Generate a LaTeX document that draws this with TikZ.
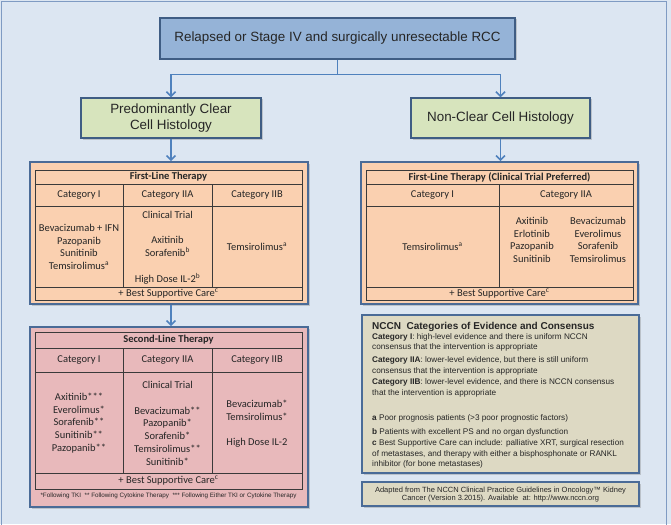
\documentclass[tikz,border=0pt]{standalone}
\usepackage{fontspec}
\setmainfont{Liberation Sans}
\newfontfamily\calibri{Carlito}
\usetikzlibrary{arrows.meta,shadows}

\definecolor{bg}{HTML}{DCE6F2}
\definecolor{frame}{HTML}{7F9BC3}
\definecolor{topfill}{HTML}{95B3D7}
\definecolor{greenfill}{HTML}{D7E4BD}
\definecolor{flowedge}{HTML}{3F5D84}
\definecolor{paneledge}{HTML}{4A6B97}
\definecolor{peach}{HTML}{FAD0B0}
\definecolor{pink}{HTML}{E8B9BB}
\definecolor{beige}{HTML}{DDD9C3}
\definecolor{arrowblue}{HTML}{4F81BD}
\definecolor{gridline}{HTML}{3A3A3A}
\definecolor{txt}{HTML}{262626}

\begin{document}
\begin{tikzpicture}[x=1pt,y=-1pt,
  flow/.style={draw=flowedge, line width=1.3pt, inner sep=0pt, align=center,
    text=txt, font=\fontsize{13.4}{15.5}\selectfont,
    drop shadow={shadow xshift=1.5pt, shadow yshift=-1.5pt, opacity=0.35}},
  panel/.style={draw=paneledge, line width=1.6pt, inner sep=0pt,
    drop shadow={shadow xshift=1.5pt, shadow yshift=-1.5pt, opacity=0.35}},
  grid/.style={draw=gridline, line width=0.9pt},
  cell/.style={inner sep=0pt, align=center, text=txt,
    font=\calibri\fontsize{10.5}{12.7}\selectfont},
  cellhead/.style={cell, font=\calibri\bfseries\fontsize{10.5}{12.7}\selectfont},
  foot/.style={inner sep=0pt, text=txt, font=\fontsize{6.3}{7.5}\selectfont},
  note/.style={inner sep=0pt, align=left, text=txt, font=\fontsize{8.2}{10.4}\selectfont},
  notetitle/.style={inner sep=0pt, text=txt, font=\bfseries\fontsize{10}{12}\selectfont},
  credit/.style={inner sep=0pt, align=center, text=txt, font=\fontsize{7.5}{8.6}\selectfont},
  conn/.style={draw=arrowblue, line width=1.6pt},
  tip/.style={-{Straight Barb[length=4.5pt,width=9pt]}}]

\useasboundingbox (0,0) rectangle (671,524);
\fill[bg] (0,0) rectangle (671,524);
\draw[frame, line width=1.4pt] (1.5,530) -- (1.5,1.5) -- (666.5,1.5) -- (666.5,530);

% --- decision flow ---
\node[flow, fill=topfill, minimum width=355pt, minimum height=41pt] (top) at (337.5,38.5)
  {Relapsed or Stage IV and surgically unresectable RCC};
\node[flow, fill=greenfill, minimum width=180pt, minimum height=40pt] (gl) at (171,118)
  {Predominantly Clear\\Cell Histology};
\node[flow, fill=greenfill, minimum width=179pt, minimum height=40pt] (gr) at (500.5,118)
  {Non-Clear Cell Histology};

\draw[conn] (top.south) -- ++(0,15) coordinate (split);
\draw[conn,tip] (split) -| (gl.north);
\draw[conn,tip] (split) -| (gr.north);

% --- panels ---
\node[panel, fill=peach, minimum width=278pt, minimum height=142pt] (fl1) at (169,233) {};
\node[panel, fill=peach, minimum width=277pt, minimum height=142pt] (fr1) at (499.5,233) {};
\node[panel, fill=pink, minimum width=278pt, minimum height=180pt] (sl) at (169,417) {};
\node[panel, fill=beige, minimum width=277pt, minimum height=158pt] (nccn) at (500.5,394) {};
\node[panel, fill=beige, minimum width=277pt, minimum height=24pt] (src) at (500.5,494) {};

\draw[conn,tip] (gl.south) -- (gl.south |- fl1.north);
\draw[conn,tip] (gr.south) -- (gr.south |- fr1.north);
\draw[conn,tip] (fl1.south -| gl.south) -- (gl.south |- sl.north);

% --- first-line therapy, clear cell ---
\draw[grid] (35,170) rectangle (302,300);
\draw[grid] (35,184) -- (302,184) (35,206) -- (302,206) (35,287) -- (302,287)
  (123,184) -- (123,287) (212,184) -- (212,287);
\node[cellhead] (fl1t) at (168.5,177) {First-Line Therapy};
\node[cell] (fl1h1) at (79,195) {Category I};
\node[cell] (fl1h2) at (167.5,195) {Category IIA};
\node[cell] (fl1h3) at (257,195) {Category IIB};
\node[cell] (fl1c1) at (79,247) {Bevacizumab + IFN\\Pazopanib\\Sunitinib\\Temsirolimus\textsuperscript{a}};
\node[cell] (fl1c2a) at (167.5,215) {Clinical Trial};
\node[cell] (fl1c2b) at (167.5,246.5) {Axitinib\\Sorafenib\textsuperscript{b}};
\node[cell] (fl1c2c) at (167.5,279) {High Dose IL-2\textsuperscript{b}};
\node[cell] (fl1c3) at (257,247) {Temsirolimus\textsuperscript{a}};
\node[cell] (fl1b) at (168.5,293.5) {+ Best Supportive Care\textsuperscript{c}};

% --- first-line therapy, non-clear cell ---
\draw[grid] (366,170) rectangle (633,300);
\draw[grid] (366,184) -- (633,184) (366,206) -- (633,206) (366,287) -- (633,287)
  (499,184) -- (499,287);
\node[cellhead] (fr1t) at (499.5,177) {First-Line Therapy (Clinical Trial Preferred)};
\node[cell] (fr1h1) at (432.5,195) {Category I};
\node[cell] (fr1h2) at (566,195) {Category IIA};
\node[cell] (fr1c1) at (432.5,247) {Temsirolimus\textsuperscript{a}};
\node[cell] (fr1c2) at (532,240) {Axitinib\\Erlotinib\\Pazopanib\\Sunitinib};
\node[cell] (fr1c3) at (598,240) {Bevacizumab\\Everolimus\\Sorafenib\\Temsirolimus};
\node[cell] (fr1b) at (499.5,293.5) {+ Best Supportive Care\textsuperscript{c}};

% --- second-line therapy ---
\draw[grid] (35,332) rectangle (302,489);
\draw[grid] (35,348) -- (302,348) (35,372) -- (302,372) (35,473) -- (302,473)
  (123,348) -- (123,473) (212,348) -- (212,473);
\node[cellhead] (slt) at (168.5,340) {Second-Line Therapy};
\node[cell] (slh1) at (79,360) {Category I};
\node[cell] (slh2) at (167.5,360) {Category IIA};
\node[cell] (slh3) at (257,360) {Category IIB};
\node[cell] (sl1) at (79,423) {Axitinib***\\Everolimus*\\Sorafenib**\\Sunitinib**\\Pazopanib**};
\node[cell] (sl2a) at (167.5,385) {Clinical Trial};
\node[cell] (sl2b) at (167.5,436) {Bevacizumab**\\Pazopanib*\\Sorafenib*\\Temsirolimus**\\Sunitinib*};
\node[cell] (sl3a) at (257,410.5) {Bevacizumab*\\Temsirolimus*};
\node[cell] (sl3b) at (257,443) {High Dose IL-2};
\node[cell] (slb) at (168.5,481) {+ Best Supportive Care\textsuperscript{c}};
\node[foot] (slf) at (168.5,496) {*Following TKI\ \ ** Following Cytokine Therapy\ \ *** Following Either TKI or Cytokine Therapy};

% --- categories of evidence ---
\node[notetitle, anchor=west] (nt) at (372,327) {NCCN\ \ Categories of Evidence and Consensus};
\node[note, anchor=west] (n1) at (372,342.5) {\textbf{Category I}: high-level evidence and there is uniform NCCN\\consensus that the intervention is appropriate};
\node[note, anchor=west] (n2) at (372,366) {\textbf{Category IIA}: lower-level evidence, but there is still uniform\\consensus that the intervention is appropriate};
\node[note, anchor=west] (n3) at (372,388) {\textbf{Category IIB}: lower-level evidence, and there is NCCN consensus\\that the intervention is appropriate};
\node[note, anchor=west] (na) at (372,418) {\textbf{a} Poor prognosis patients (>3 poor prognostic factors)};
\node[note, anchor=west] (nb) at (372,432) {\textbf{b} Patients with excellent PS and no organ dysfunction};
\node[note, anchor=west] (nc) at (372,454) {\textbf{c} Best Supportive Care can include: palliative XRT, surgical resection\\of metastases, and therapy with either a bisphosphonate or RANKL\\inhibitor (for bone metastases)};

% --- source ---
\node[credit] (ad) at (500.5,494.5) {Adapted from The NCCN Clinical Practice Guidelines in Oncology™ Kidney\\Cancer (Version 3.2015). Available\ \ at: http://www.nccn.org};
\end{tikzpicture}
\end{document}
